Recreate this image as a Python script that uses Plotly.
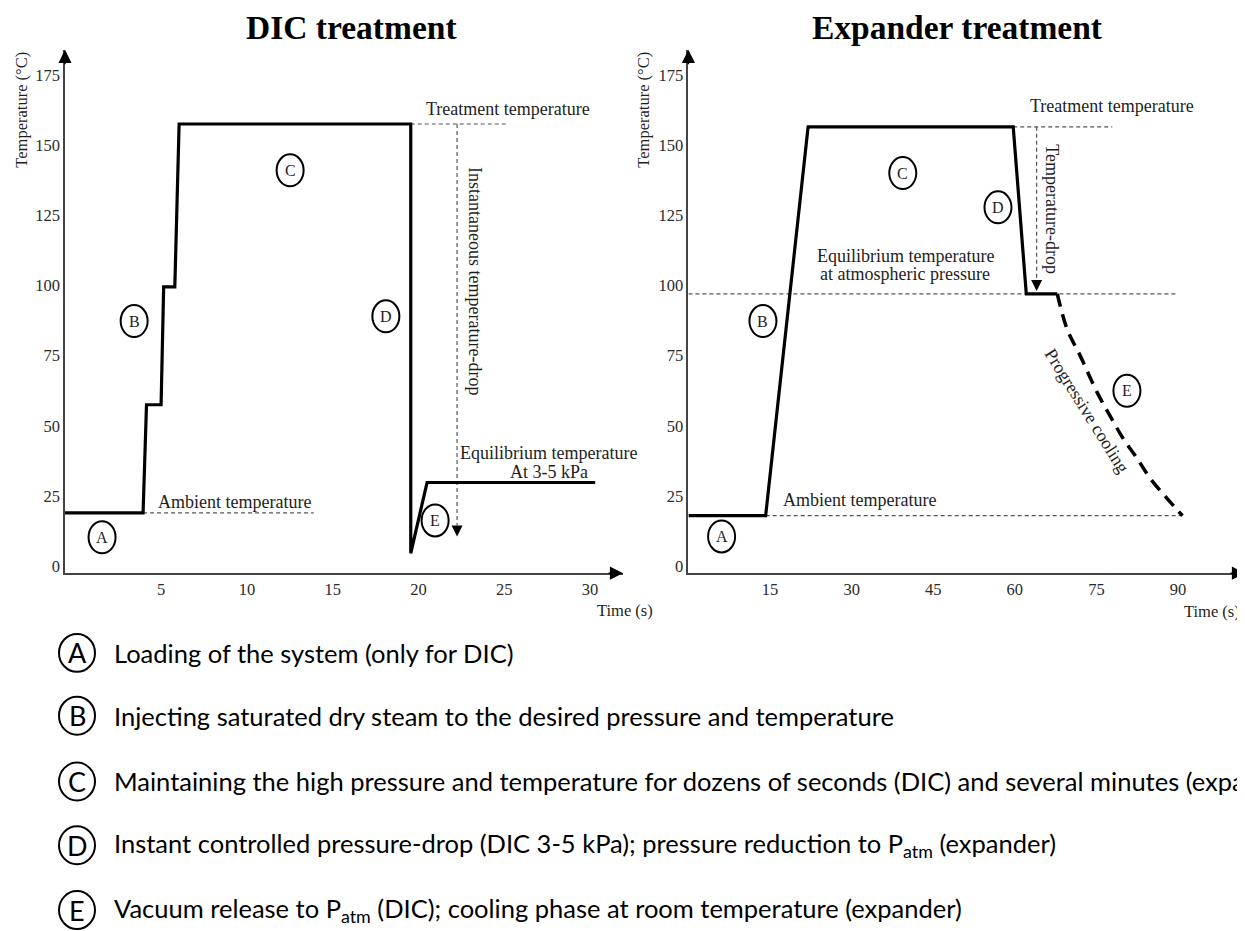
import plotly.graph_objects as go

# The page body has an 8px margin, so the figure is drawn 8px in from the corner.
OFF = 8
W, H = 1245 - OFF, 931 - OFF

# ---------------- data ----------------
dic_time = [-0.6, 3.95, 4.15, 5.0, 5.15, 5.8, 6.05, 19.55, 19.55, 20.5, 30.3]
dic_temp = [19, 19, 57.5, 57.5, 99.5, 99.5, 157.5, 157.5, 4.6, 29.8, 29.8]

exp_time = [0, 14.2, 22.0, 59.7, 62.1, 67.8]
exp_temp = [18, 18, 156.5, 156.5, 97, 97]

cool_time = [67.8, 69.6, 72.0, 75.1, 77.5, 79.9, 82.5, 84.9, 88.0, 90.8]
cool_temp = [97, 84.5, 75, 62, 53.5, 45.5, 38.3, 31.2, 24.1, 18]

dic_ambient_x = [3.95, 13.9]
dic_ambient_y = [19, 19]
dic_treat_x = [19.55, 25.2]
dic_treat_y = [157.5, 157.5]
dic_drop_x = [22.25, 22.25]
dic_drop_y = [157.5, 10.6]

exp_ambient_x = [14.2, 91]
exp_ambient_y = [18, 18]
exp_equil_x = [0, 90]
exp_equil_y = [97, 97]
exp_treat_x = [59.7, 77.9]
exp_treat_y = [156.5, 156.5]
exp_drop_x = [64.0, 64.0]
exp_drop_y = [156.5, 98]

phase_letters = ["A", "B", "C", "D", "E"]
dic_phase_x = [1.56, 3.43, 12.52, 18.1, 20.97]
dic_phase_y = [10.3, 87.3, 141, 89, 16.3]
exp_phase_x = [6.1, 13.7, 39.4, 56.9, 80.6]
exp_phase_y = [10.6, 87.3, 140, 127.8, 62.5]

dic_xticks = [5, 10, 15, 20, 25, 30]
exp_xticks = [15, 30, 45, 60, 75, 90]
yticks = [0, 25, 50, 75, 100, 125, 150, 175]

legend_texts = [
    "Loading of the system (only for DIC)",
    "Injecting saturated dry steam to the desired pressure and temperature",
    "Maintaining the high pressure and temperature for dozens of seconds (DIC) and several minutes (expander)",
    "Instant controlled pressure-drop (DIC 3-5 kPa); pressure reduction to P<sub>atm</sub> (expander)",
    "Vacuum release to P<sub>atm</sub> (DIC); cooling phase at room temperature (expander)",
]

SERIF = "Liberation Serif"
SANS = "Lato"
TXT = "#1e1e1e"


def fx(X):
    return (X - OFF) / W


def fy(Y):
    return 1 - (Y - OFF) / H


fig = go.Figure()


def line(x, y, xa, ya, width=3.2, color="black", dash="solid", shape="linear"):
    fig.add_trace(go.Scatter(x=x, y=y, xaxis=xa, yaxis=ya, mode="lines",
                             line=dict(color=color, width=width, dash=dash, shape=shape),
                             hoverinfo="skip", showlegend=False))


thin = dict(width=1.2, color="#555555", dash="4px,3px")

# DIC panel
line(dic_ambient_x, dic_ambient_y, "x", "y", **thin)
line(dic_treat_x, dic_treat_y, "x", "y", **thin)
line(dic_drop_x, [dic_drop_y[0], dic_drop_y[1] + 4], "x", "y", **thin)
line(dic_time, dic_temp, "x", "y")

# Expander panel
line(exp_ambient_x, exp_ambient_y, "x2", "y2", **thin)
line(exp_equil_x, exp_equil_y, "x2", "y2", **thin)
line(exp_treat_x, exp_treat_y, "x2", "y2", **thin)
line(exp_drop_x, [exp_drop_y[0], exp_drop_y[1] + 4], "x2", "y2", **thin)
line(exp_time, exp_temp, "x2", "y2")
line(cool_time, cool_temp, "x2", "y2", width=3.5, dash="13px,8px", shape="spline")

ydom = [fy(575), fy(50)]
axis_common = dict(showgrid=False, zeroline=False, showline=True, linecolor="#444444",
                   linewidth=1.5, ticks="", tickfont=dict(family=SERIF, size=16.5, color="#2a2a2a"),
                   fixedrange=True)

fig.update_layout(
    width=W, height=H, margin=dict(l=0, r=0, t=0, b=0),
    paper_bgcolor="white", plot_bgcolor="white", showlegend=False,
    xaxis=dict(domain=[fx(65), fx(623)], range=[-0.6, 31.92], tickvals=dic_xticks, **axis_common),
    yaxis=dict(domain=ydom, range=[-2.48, 183.9], tickvals=yticks, **axis_common),
    xaxis2=dict(domain=[fx(688.4), 1.0], range=[0, 102.3], tickvals=exp_xticks, anchor="y2", **axis_common),
    yaxis2=dict(domain=ydom, range=[-2.48, 183.9], tickvals=yticks, anchor="x2", **axis_common),
)

shapes = []
ann = []

# axis arrowheads
for xr, yr in (("x", "y"), ("x2", "y2")):
    ann.append(dict(xref=xr + " domain", yref=yr + " domain", x=0, y=1, ax=0, ay=16,
                    showarrow=True, arrowhead=2, arrowsize=1.75, arrowwidth=1.5,
                    arrowcolor="black", text="", standoff=0))
    ann.append(dict(xref=xr + " domain", yref=yr + " domain", x=1, y=0, ax=-16, ay=0,
                    showarrow=True, arrowhead=2, arrowsize=1.75, arrowwidth=1.5,
                    arrowcolor="black", text="", standoff=0))

# temperature-drop arrowheads
ann.append(dict(xref="x", yref="y", x=dic_drop_x[1], y=dic_drop_y[1], ax=0, ay=-12,
                showarrow=True, arrowhead=2, arrowsize=2.2, arrowwidth=1, arrowcolor="black",
                text="", standoff=0))
ann.append(dict(xref="x2", yref="y2", x=exp_drop_x[1], y=exp_drop_y[1], ax=0, ay=-12,
                showarrow=True, arrowhead=2, arrowsize=2.2, arrowwidth=1, arrowcolor="black",
                text="", standoff=0))

# circled phase letters in the charts
for xr, yr, xs, ys in (("x", "y", dic_phase_x, dic_phase_y), ("x2", "y2", exp_phase_x, exp_phase_y)):
    for L, xv, yv in zip(phase_letters, xs, ys):
        shapes.append(dict(type="circle", xref=xr, yref=yr, xsizemode="pixel", ysizemode="pixel",
                           xanchor=xv, yanchor=yv, x0=-13.5, x1=13.5, y0=-16, y1=16,
                           line=dict(color="black", width=2)))
        ann.append(dict(xref=xr, yref=yr, x=xv, y=yv, text=L, showarrow=False,
                        font=dict(family=SERIF, size=16, color=TXT), xanchor="center", yanchor="middle"))

lab = dict(family=SERIF, size=18, color=TXT)


def text(xr, yr, x, y, t, angle=0, font=lab):
    ann.append(dict(xref=xr, yref=yr, x=x, y=y, text=t, showarrow=False, textangle=angle,
                    font=font, xanchor="center", yanchor="middle"))


# DIC labels
text("x", "y", 9.3, 23, "Ambient temperature")
text("x", "y", 25.2, 163, "Treatment temperature")
text("x", "y", 23.3, 101.5, "Instantaneous temperature-drop", angle=90)
text("x", "y", 27.6, 40.2, "Equilibrium temperature")
text("x", "y", 27.6, 33.4, "At 3-5 kPa")

# Expander labels
text("x2", "y2", 77.9, 164, "Treatment temperature")
text("x2", "y2", 66.9, 127, "Temperature-drop", angle=90)
text("x2", "y2", 39.9, 110.5, "Equilibrium temperature")
text("x2", "y2", 39.9, 104.0, "at atmospheric pressure")
text("x2", "y2", 31.4, 23.4, "Ambient temperature")
text("x2", "y2", 73.3, 55.4, "Progressive cooling", angle=58)

# titles / axis titles
title_font = dict(family=SERIF, size=33.5, color="black")
text("paper", "paper", fx(351), fy(28), "<b>DIC treatment</b>", font=title_font)
text("paper", "paper", fx(957), fy(28), "<b>Expander treatment</b>", font=title_font)
axt = dict(family=SERIF, size=16.5, color=TXT)
text("paper", "paper", fx(22), fy(110), "Temperature (°C)", angle=-90, font=axt)
text("paper", "paper", fx(644), fy(110), "Temperature (°C)", angle=-90, font=axt)
text("paper", "paper", fx(625), fy(612), "Time (s)", font=axt)
text("paper", "paper", fx(1212), fy(613), "Time (s)", font=axt)

# bottom key
key_y = [655, 718, 784, 848, 913]
KX = 77
for L, t, cy in zip(phase_letters, legend_texts, key_y):
    shapes.append(dict(type="circle", xref="paper", yref="paper",
                       x0=fx(KX - 18), x1=fx(KX + 18), y0=fy(cy + 19), y1=fy(cy - 19),
                       line=dict(color="black", width=2)))
    ann.append(dict(xref="paper", yref="paper", x=fx(KX), y=fy(cy), text=L, showarrow=False,
                    font=dict(family=SANS, size=27, color="black"), xanchor="center", yanchor="middle"))
    ann.append(dict(xref="paper", yref="paper", x=fx(112), y=fy(cy), text=t, showarrow=False,
                    font=dict(family=SANS, size=25.5, color="black"), xanchor="left", yanchor="middle"))

fig.update_layout(shapes=shapes, annotations=ann)
fig.write_html("out.html", config={"displayModeBar": False})
